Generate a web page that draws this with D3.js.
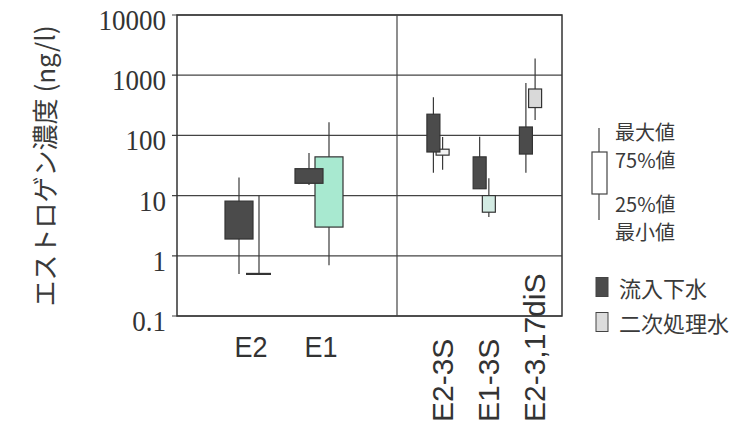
<!DOCTYPE html>
<html>
<head>
<meta charset="utf-8">
<script src="https://cdn.jsdelivr.net/npm/d3@7"></script>
<style>
  body { margin: 0; background: #fff; }
  svg { display: block; }
</style>
</head>
<body>
<svg id="chart"></svg>
<script>
// categories, left panel and right panel
var leftCats = ['E2', 'E1'],
  rightCats = ['E2-3S', 'E1-3S', 'E2-3,17diS'];

// 流入下水 (inflow) : min, 25%, 75%, max
var inflowMin = [0.5, 15, 24, 13, 24],
  inflowQ1 = [1.9, 16, 53, 13, 49],
  inflowQ3 = [8.1, 28, 225, 44, 138],
  inflowMax = [20, 51, 430, 95, 740];

// 二次処理水 (secondary effluent)
var effMin = [0.5, 0.7, 27, 4.4, 180],
  effQ1 = [0.5, 3.0, 47, 5.3, 290],
  effQ3 = [0.5, 44, 59, 10, 590],
  effMax = [10, 166, 94, 19.5, 1900],
  effFill = ['#ffffff', '#a8e9d0', '#f3f3f3', '#d3ebe3', '#d9d9d9'];

var yTicks = [0.1, 1, 10, 100, 1000, 10000],
  yTickLabels = ['0.1', '1', '10', '100', '1000', '10000'];

var vWidth = 745, vHeight = 424,
  pLeft = 177, pRight = 562, pTop = 15, pBottom = 316, divider = 397;

var svg = d3.select('#chart')
  .attr('width', vWidth)
  .attr('height', vHeight);

var y = d3.scaleLog().domain([0.1, 10000]).range([pBottom, pTop]);
var xLeft = d3.scalePoint().domain(leftCats).range([249, 319]);
var xRight = d3.scalePoint().domain(rightCats).range([438, 530.5]);

var cats = leftCats.concat(rightCats);
var rows = cats.map(function(c, i) {
  var isLeft = i < leftCats.length;
  return {
    name: c,
    cx: isLeft ? xLeft(c) : xRight(c),
    off: isLeft ? 10 : 4.6,
    w: isLeft ? 28 : 13,
    inflow: [inflowMin[i], inflowQ1[i], inflowQ3[i], inflowMax[i]],
    eff: [effMin[i], effQ1[i], effQ3[i], effMax[i]],
    effFill: effFill[i],
    isLeft: isLeft
  };
});

//gridlines
svg.append('g').selectAll('line')
  .data(yTicks)
  .enter().append('line')
  .attr('x1', pLeft - 5).attr('x2', pRight)
  .attr('y1', function(d) { return y(d); })
  .attr('y2', function(d) { return y(d); })
  .attr('stroke', '#444')
  .attr('stroke-width', 1.2);

//frame + divider
svg.append('rect')
  .attr('x', pLeft).attr('y', pTop)
  .attr('width', pRight - pLeft).attr('height', pBottom - pTop)
  .attr('fill', 'none').attr('stroke', '#333').attr('stroke-width', 1.5);
svg.append('line')
  .attr('x1', divider).attr('x2', divider)
  .attr('y1', pTop).attr('y2', pBottom)
  .attr('stroke', '#444').attr('stroke-width', 1.2);

//tick labels
svg.append('g').selectAll('text')
  .data(yTicks)
  .enter().append('text')
  .attr('transform', function(d) { return 'translate(166,' + (y(d) + 15) + ') scale(0.9,1)'; })
  .attr('text-anchor', 'end')
  .style('font-family', '"Liberation Serif", serif')
  .style('font-size', '30px')
  .attr('fill', '#333')
  .text(function(d, i) { return yTickLabels[i]; });

//y title
svg.append('text')
  .attr('transform', 'translate(43,166) rotate(-90)')
  .attr('text-anchor', 'middle')
  .attr('dominant-baseline', 'central')
  .style('font-family', '"Noto Sans CJK JP", sans-serif')
  .style('font-size', '26px')
  .attr('fill', '#3a3a3a')
  .text('エストロゲン濃度 (ng/l)');

//draws one box with whiskers
function drawBox(g, cx, w, v, fill) {
  g.append('line')
    .attr('x1', cx).attr('x2', cx)
    .attr('y1', y(v[3])).attr('y2', y(v[0]))
    .attr('stroke', '#3a3a3a').attr('stroke-width', 1.2);
  if (v[1] === v[2]) {
    // box collapsed to a line
    g.append('line')
      .attr('x1', cx - w / 2 + 1).attr('x2', cx + w / 2 - 2)
      .attr('y1', y(v[1])).attr('y2', y(v[1]))
      .attr('stroke', '#333').attr('stroke-width', 2.2);
    return;
  }
  g.append('rect')
    .attr('x', cx - w / 2).attr('width', w)
    .attr('y', y(v[2]))
    .attr('height', y(v[1]) - y(v[2]))
    .attr('fill', fill)
    .attr('stroke', '#333')
    .attr('stroke-width', 1.2);
}

var boxes = svg.append('g');
rows.forEach(function(d) {
  var gb = boxes.append('g');
  drawBox(gb, d.cx + d.off, d.w, d.eff, d.effFill);
  drawBox(gb, d.cx - d.off, d.w, d.inflow, '#4b4b4b');
});

//category labels
svg.append('g').selectAll('text')
  .data(rows.filter(function(d) { return d.isLeft; }))
  .enter().append('text')
  .attr('transform', function(d) { return 'translate(' + (d.cx + 2) + ',357) scale(0.9,1)'; })
  .attr('text-anchor', 'middle')
  .style('font-family', '"Liberation Sans", Arial, sans-serif')
  .style('font-size', '30px')
  .attr('fill', '#333')
  .text(function(d) { return d.name; });

svg.append('g').selectAll('text')
  .data(rows.filter(function(d) { return !d.isLeft; }))
  .enter().append('text')
  .attr('transform', function(d) { return 'translate(' + (d.cx + 4) + ',422) rotate(-90)'; })
  .attr('text-anchor', 'start')
  .attr('dominant-baseline', 'central')
  .style('font-family', '"Liberation Sans", Arial, sans-serif')
  .style('font-size', '30px')
  .attr('fill', '#333')
  .text(function(d) { return d.name; });

//legend: box explanation
var lg = svg.append('g');
lg.append('line')
  .attr('x1', 599).attr('x2', 599).attr('y1', 128).attr('y2', 220)
  .attr('stroke', '#444').attr('stroke-width', 1.2);
lg.append('rect')
  .attr('x', 592).attr('y', 152).attr('width', 15).attr('height', 42)
  .attr('fill', '#fff').attr('stroke', '#444').attr('stroke-width', 1.2);
var legendText = [['最大値', 131], ['75%値', 159], ['25%値', 203], ['最小値', 231]];
lg.selectAll('text.lbl')
  .data(legendText)
  .enter().append('text')
  .attr('x', 615).attr('y', function(d) { return d[1]; })
  .attr('dominant-baseline', 'central')
  .style('font-family', '"Noto Sans CJK JP", sans-serif')
  .style('font-size', '20px')
  .attr('fill', '#3a3a3a')
  .text(function(d) { return d[0]; });

//legend: series
var series = [['流入下水', '#4b4b4b', 287], ['二次処理水', '#dcdcdc', 322]];
var sg = lg.selectAll('g.ser')
  .data(series)
  .enter().append('g');
sg.append('rect')
  .attr('x', 596).attr('y', function(d) { return d[2] - 9.5; })
  .attr('width', 12).attr('height', 19)
  .attr('fill', function(d) { return d[1]; })
  .attr('stroke', '#444').attr('stroke-width', 1);
sg.append('text')
  .attr('x', 619).attr('y', function(d) { return d[2]; })
  .attr('dominant-baseline', 'central')
  .style('font-family', '"Noto Sans CJK JP", sans-serif')
  .style('font-size', '22px')
  .attr('fill', '#3a3a3a')
  .text(function(d) { return d[0]; });
</script>
</body>
</html>
